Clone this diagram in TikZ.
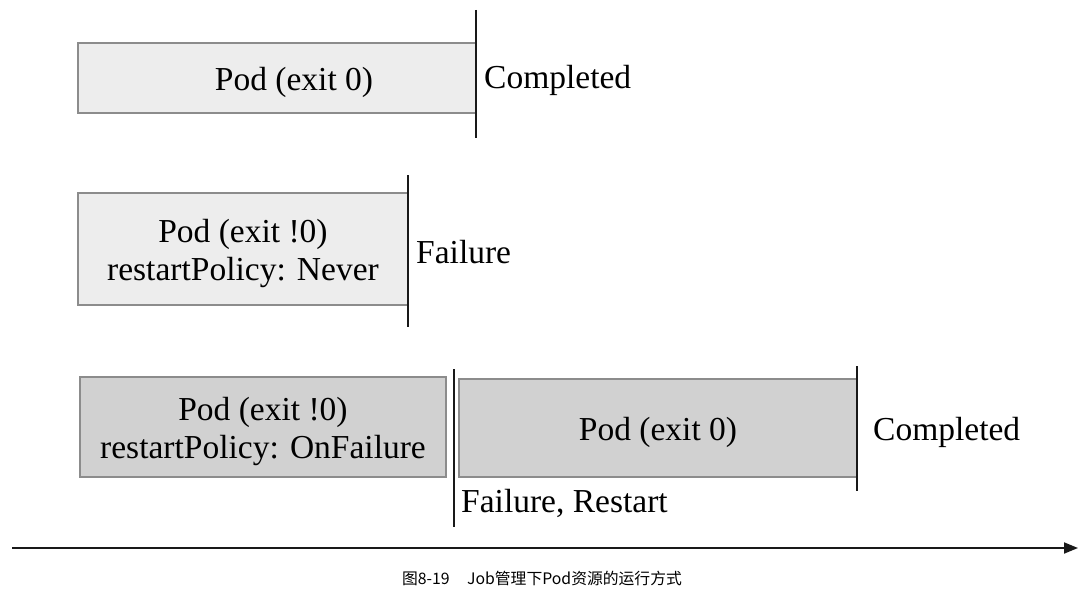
\documentclass[tikz,border=0pt]{standalone}
\usepackage{fontspec}
\setmainfont{Liberation Serif}
\newfontfamily\cjk{Noto Sans CJK SC}
\usetikzlibrary{arrows.meta}
\begin{document}
\begin{tikzpicture}[x=1pt,y=-1pt,
  podbox/.style={draw=black!45,line width=1.6pt,inner sep=0pt},
  lightbox/.style={podbox,fill=black!7},
  darkbox/.style={podbox,fill=black!18},
  podtext/.style={inner sep=0pt,align=center,yshift=-4pt,
    font=\fontsize{33.5}{38}\selectfont},
  marker/.style={line width=1.8pt,black!90},
  stlabel/.style={anchor=west,inner sep=0pt,font=\fontsize{33.5}{38}\selectfont}]
\useasboundingbox (0,0) rectangle (1089,591);
% row 1
\node[lightbox,minimum width=398pt,minimum height=70pt,
  label={[podtext,xshift=17pt]center:Pod (exit 0)}] (p1) at (277,78) {};
\coordinate (m1a) at (476,10);
\coordinate (m1b) at (476,138);
\draw[marker] (m1a) -- (m1b);
\node[stlabel] (c1) at (484,80) {Completed};
% row 2
\node[lightbox,minimum width=330pt,minimum height=112pt,
  label={[podtext]center:Pod (exit !0)\\restartPolicy: Never}] (p2) at (243,249) {};
\coordinate (m2a) at (408,175);
\coordinate (m2b) at (408,327);
\draw[marker] (m2a) -- (m2b);
\node[stlabel] (f2) at (416,252) {Failure};
% row 3
\node[darkbox,minimum width=366pt,minimum height=100pt,
  label={[podtext]center:Pod (exit !0)\\restartPolicy: OnFailure}] (p3) at (263,427) {};
\coordinate (m3a) at (454,369);
\coordinate (m3b) at (454,527);
\draw[marker] (m3a) -- (m3b);
\node[darkbox,minimum width=398pt,minimum height=98pt,
  label={[podtext]center:Pod (exit 0)}] (p4) at (658,428) {};
\coordinate (m4a) at (857,366);
\coordinate (m4b) at (857,491);
\draw[marker] (m4a) -- (m4b);
\node[stlabel] (c4) at (873,432) {Completed};
\node[stlabel] (f3) at (461,503) {Failure, Restart};
% time axis
\coordinate (ax0) at (12,548);
\coordinate (ax1) at (1078,548);
\draw[line width=1.8pt,black!90,-{Triangle[length=14pt,width=11pt]}] (ax0) -- (ax1);
% caption
\node[inner sep=0pt,font=\cjk\fontsize{15.8}{18}\selectfont] (cap) at (542,578)
  {图8-19\hspace{1.1em}Job管理下Pod资源的运行方式};
\end{tikzpicture}
\end{document}
